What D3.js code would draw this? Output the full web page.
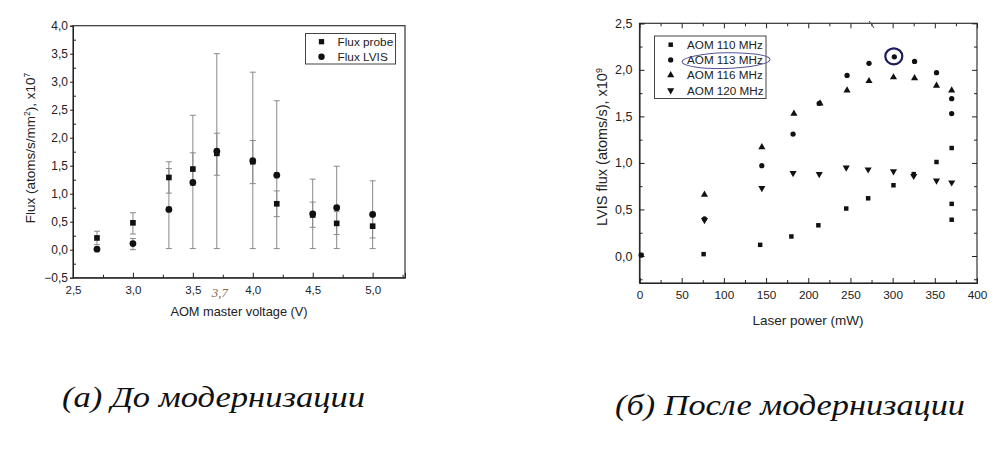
<!DOCTYPE html>
<html>
<head>
<meta charset="utf-8">
<script src="https://cdn.jsdelivr.net/npm/d3@7"></script>
<style>
  body { margin: 0; background: #fff; }
  svg { display: block; }
  .axis text { font-family: "Liberation Sans", Arial, sans-serif; fill: #222; }
  .axis path, .axis line { stroke: #222; }
  .title { font-family: "Liberation Sans", Arial, sans-serif; fill: #222; }
  .legend text { font-family: "Liberation Sans", Arial, sans-serif; fill: #222; }
  .caption { font-family: "Liberation Serif", "Times New Roman", serif; font-style: italic; font-size: 30px; fill: #111; }
</style>
</head>
<body>
<div id="chart"></div>
<script>
// ---- (a) data: flux vs AOM master voltage
var voltage   = [2.7, 3.0, 3.3, 3.5, 3.7, 4.0, 4.2, 4.5, 4.7, 5.0];
var probe     = [0.21, 0.48, 1.29, 1.44, 1.72, 1.57, 0.82, 0.62, 0.47, 0.42];
var probeLow  = [0.09, 0.28, 1.01, 1.15, 1.33, 1.18, 0.59, 0.40, 0.27, 0.21];
var probeHigh = [0.33, 0.66, 1.57, 1.73, 2.08, 1.95, 1.05, 0.85, 0.68, 0.63];
var lvis      = [0.01, 0.11, 0.72, 1.20, 1.76, 1.59, 1.33, 0.64, 0.75, 0.63];
var lvisLow   = [0.00, 0.00, 0.02, 0.02, 0.02, 0.02, 0.02, 0.02, 0.02, 0.02];
var lvisHigh  = [0.02, 0.20, 1.45, 2.40, 3.50, 3.17, 2.66, 1.26, 1.49, 1.23];
var xTicksA = [2.5, 3.0, 3.5, 4.0, 4.5, 5.0];
var yTicksA = [-0.5, 0, 0.5, 1.0, 1.5, 2.0, 2.5, 3.0, 3.5, 4.0];

// ---- (б) data: LVIS flux vs laser power
var power110 = [2, 76, 143, 180, 212, 245, 271, 301, 325, 352, 370, 370, 370];
var flux110  = [0.01, 0.02, 0.12, 0.21, 0.33, 0.51, 0.62, 0.76, 0.88, 1.01, 1.16, 0.56, 0.39];
var power113 = [2, 77, 145, 182, 213, 246, 272, 302, 326, 352, 370, 370];
var flux113  = [0.01, 0.40, 0.97, 1.31, 1.64, 1.94, 2.07, 2.14, 2.09, 1.97, 1.69, 1.53];
var power116 = [77, 145, 183, 214, 246, 272, 301, 326, 352, 370];
var flux116  = [0.66, 1.17, 1.53, 1.64, 1.78, 1.88, 1.92, 1.91, 1.83, 1.78];
var power120 = [77, 145, 182, 213, 245, 271, 301, 325, 352, 370];
var flux120  = [0.385, 0.73, 0.89, 0.88, 0.95, 0.93, 0.91, 0.86, 0.81, 0.79];
var seriesNames = ["AOM 110 MHz", "AOM 113 MHz", "AOM 116 MHz", "AOM 120 MHz"];
var xTicksB = [0, 50, 100, 150, 200, 250, 300, 350, 400];
var yTicksB = [0, 0.5, 1.0, 1.5, 2.0, 2.5];

var comma1 = function(d) { return d3.format(".1f")(d).replace(".", ","); };

var svg = d3.select("#chart").append("svg")
    .attr("width", 1006)
    .attr("height", 456);

// ===================== Left chart =====================
var xA = d3.scaleLinear().domain([2.5, 5.27]).range([73, 405]);
var yA = d3.scaleLinear().domain([-0.5, 4.0]).range([277.7, 25.7]);

var gA = svg.append("g");

// frame
gA.append("rect")
    .attr("x", xA.range()[0]).attr("y", yA.range()[1])
    .attr("width", xA.range()[1] - xA.range()[0])
    .attr("height", yA.range()[0] - yA.range()[1])
    .attr("fill", "none").attr("stroke", "#333").attr("stroke-width", 1.2);

// minor ticks
gA.append("g").attr("class", "axis")
    .attr("transform", "translate(0," + yA.range()[0] + ")")
    .call(d3.axisBottom(xA).tickValues(d3.range(2.75, 5.26, 0.5)).tickSize(-3).tickFormat(""))
    .select(".domain").remove();
gA.append("g").attr("class", "axis")
    .attr("transform", "translate(" + xA.range()[0] + ",0)")
    .call(d3.axisLeft(yA).tickValues(d3.range(-0.25, 4.0, 0.5)).tickSize(-3).tickFormat(""))
    .select(".domain").remove();

// major ticks
gA.append("g").attr("class", "axis")
    .attr("transform", "translate(0," + yA.range()[0] + ")")
    .call(d3.axisBottom(xA).tickValues(xTicksA).tickSize(-5).tickPadding(8).tickFormat(comma1))
    .selectAll("text").attr("font-size", "11.5px");
gA.append("g").attr("class", "axis")
    .attr("transform", "translate(" + xA.range()[0] + ",0)")
    .call(d3.axisLeft(yA).tickValues(yTicksA).tickSize(3).tickPadding(2).tickFormat(comma1))
    .selectAll("text").attr("font-size", "12px");

// error bars
function errorBars(g, xs, lo, hi) {
  var eb = g.append("g").attr("stroke", "#8a8a8a").attr("stroke-width", 1);
  xs.forEach(function(v, i) {
    var cx = xA(v);
    eb.append("line").attr("x1", cx).attr("x2", cx).attr("y1", yA(lo[i])).attr("y2", yA(hi[i]));
    [lo[i], hi[i]].forEach(function(e) {
      eb.append("line").attr("x1", cx - 3).attr("x2", cx + 3).attr("y1", yA(e)).attr("y2", yA(e));
    });
  });
}
errorBars(gA, voltage, lvisLow, lvisHigh);
errorBars(gA, voltage, probeLow, probeHigh);

gA.selectAll(".probe").data(voltage).enter().append("path")
    .attr("d", d3.symbol().type(d3.symbolSquare).size(32))
    .attr("transform", function(d, i) { return "translate(" + xA(d) + "," + yA(probe[i]) + ")"; })
    .attr("fill", "#111");
gA.selectAll(".lvis").data(voltage).enter().append("path")
    .attr("d", d3.symbol().type(d3.symbolCircle).size(36))
    .attr("transform", function(d, i) { return "translate(" + xA(d) + "," + yA(lvis[i]) + ")"; })
    .attr("fill", "#111");

// legend
var legA = gA.append("g").attr("class", "legend");
legA.append("rect").attr("x", 305.5).attr("y", 33.5).attr("width", 90).attr("height", 30.5)
    .attr("fill", "#fff").attr("stroke", "#444");
legA.append("path").attr("d", d3.symbol().type(d3.symbolSquare).size(28)())
    .attr("transform", "translate(321.5,41.7)").attr("fill", "#111");
legA.append("path").attr("d", d3.symbol().type(d3.symbolCircle).size(32)())
    .attr("transform", "translate(321.5,56.7)").attr("fill", "#111");
legA.append("text").attr("x", 337.5).attr("y", 46).attr("font-size", "11.8px").text("Flux probe");
legA.append("text").attr("x", 337.5).attr("y", 61).attr("font-size", "11.8px").text("Flux LVIS");

// titles
gA.append("text").attr("class", "title")
    .attr("text-anchor", "middle")
    .attr("font-size", "13.5px")
    .attr("transform", "translate(35,148) rotate(-90)")
    .html('Flux (atoms/s/mm<tspan baseline-shift="super" font-size="8.5px">2</tspan>), x10<tspan baseline-shift="super" font-size="8.5px">7</tspan>');
gA.append("text").attr("class", "title")
    .attr("text-anchor", "middle")
    .attr("font-size", "12.8px")
    .attr("x", 239).attr("y", 316)
    .text("AOM master voltage (V)");

// handwritten note under the axis
gA.append("text")
    .attr("x", xA(3.7) + 3).attr("y", 297)
    .attr("text-anchor", "middle")
    .attr("font-family", "Liberation Serif, serif").attr("font-style", "italic")
    .attr("font-size", "13px").attr("fill", "#8a6a4a")
    .text("3,7");

// ===================== Right chart =====================
var xB = d3.scaleLinear().domain([0, 400]).range([639.5, 977]);
var yB = d3.scaleLinear().domain([-0.29, 2.5]).range([283, 23.3]);

var gB = svg.append("g");

gB.append("rect")
    .attr("x", xB.range()[0]).attr("y", yB.range()[1])
    .attr("width", xB.range()[1] - xB.range()[0])
    .attr("height", yB.range()[0] - yB.range()[1])
    .attr("fill", "none").attr("stroke", "#333").attr("stroke-width", 1.2);

// minor ticks on all four sides
var minorX = d3.range(25, 400, 50), minorY = d3.range(-0.25, 2.5, 0.5);
gB.append("g").attr("class", "axis").attr("transform", "translate(0," + yB.range()[0] + ")")
    .call(d3.axisBottom(xB).tickValues(minorX).tickSize(-3).tickFormat("")).select(".domain").remove();
gB.append("g").attr("class", "axis").attr("transform", "translate(0," + yB.range()[1] + ")")
    .call(d3.axisTop(xB).tickValues(minorX).tickSize(-3).tickFormat("")).select(".domain").remove();
gB.append("g").attr("class", "axis").attr("transform", "translate(" + xB.range()[0] + ",0)")
    .call(d3.axisLeft(yB).tickValues(minorY).tickSize(-3).tickFormat("")).select(".domain").remove();
gB.append("g").attr("class", "axis").attr("transform", "translate(" + xB.range()[1] + ",0)")
    .call(d3.axisRight(yB).tickValues(minorY).tickSize(-3).tickFormat("")).select(".domain").remove();

// major ticks
gB.append("g").attr("class", "axis").attr("transform", "translate(0," + yB.range()[0] + ")")
    .call(d3.axisBottom(xB).tickValues(xTicksB).tickSize(-5).tickPadding(8).tickFormat(d3.format("d")))
    .selectAll("text").attr("font-size", "11.8px");
gB.append("g").attr("class", "axis").attr("transform", "translate(0," + yB.range()[1] + ")")
    .call(d3.axisTop(xB).tickValues(xTicksB).tickSize(-5).tickFormat("")).select(".domain").remove();
gB.append("g").attr("class", "axis").attr("transform", "translate(" + xB.range()[0] + ",0)")
    .call(d3.axisLeft(yB).tickValues(yTicksB).tickSize(-5).tickPadding(7).tickFormat(comma1))
    .selectAll("text").attr("font-size", "12.5px");
gB.append("g").attr("class", "axis").attr("transform", "translate(" + xB.range()[1] + ",0)")
    .call(d3.axisRight(yB).tickValues(yTicksB).tickSize(-5).tickFormat("")).select(".domain").remove();

var seriesB = [
  { px: power110, fy: flux110, type: d3.symbolSquare, size: 20, rot: 0 },
  { px: power113, fy: flux113, type: d3.symbolCircle, size: 22, rot: 0 },
  { px: power116, fy: flux116, type: d3.symbolTriangle, size: 22, rot: 0 },
  { px: power120, fy: flux120, type: d3.symbolTriangle, size: 22, rot: 180 }
];
seriesB.forEach(function(s) {
  gB.append("g").selectAll("path").data(s.px).enter().append("path")
      .attr("d", d3.symbol().type(s.type).size(s.size))
      .attr("transform", function(d, i) {
        return "translate(" + xB(d) + "," + yB(s.fy[i]) + ") rotate(" + s.rot + ")";
      })
      .attr("fill", "#111");
});

// legend
var legB = gB.append("g").attr("class", "legend");
legB.append("rect").attr("x", 654.5).attr("y", 36).attr("width", 111.5).attr("height", 62.5)
    .attr("fill", "#fff").attr("stroke", "#444");
seriesB.forEach(function(s, i) {
  var ly = 44.7 + i * 15.2;
  legB.append("path").attr("d", d3.symbol().type(s.type).size(s.size)())
      .attr("transform", "translate(670.7," + ly + ") rotate(" + s.rot + ")")
      .attr("fill", "#111");
  legB.append("text").attr("x", 687).attr("y", ly + 4.3).attr("font-size", "11.7px").text(seriesNames[i]);
});

// hand-drawn marks
gB.append("ellipse").attr("cx", 726).attr("cy", 60.6).attr("rx", 44).attr("ry", 7.8)
    .attr("transform", "rotate(-1.5,726,60.6)")
    .attr("fill", "none").attr("stroke", "#55559a").attr("stroke-width", 1);
gB.append("ellipse").attr("cx", xB(power113[7]) - 0.5).attr("cy", yB(flux113[7]) - 0.5)
    .attr("rx", 8.5).attr("ry", 8)
    .attr("fill", "none").attr("stroke", "#1c1c5e").attr("stroke-width", 2.2);
gB.append("line").attr("x1", 869).attr("y1", 21).attr("x2", 874).attr("y2", 28)
    .attr("stroke", "#444").attr("stroke-width", 1);

// titles
gB.append("text").attr("class", "title")
    .attr("text-anchor", "middle")
    .attr("font-size", "14.5px")
    .attr("transform", "translate(607,147) rotate(-90)")
    .html('LVIS flux (atoms/s), x10<tspan baseline-shift="super" font-size="9px">9</tspan>');
gB.append("text").attr("class", "title")
    .attr("text-anchor", "middle")
    .attr("font-size", "13.5px")
    .attr("x", 808).attr("y", 325)
    .text("Laser power (mW)");

// ===================== Captions =====================
svg.append("text").attr("class", "caption").attr("x", 62).attr("y", 407)
    .attr("textLength", 303).attr("lengthAdjust", "spacingAndGlyphs")
    .text("(a) До модернизации");
svg.append("text").attr("class", "caption").attr("x", 615).attr("y", 415)
    .attr("textLength", 350).attr("lengthAdjust", "spacingAndGlyphs")
    .text("(б) После модернизации");
</script>
</body>
</html>
